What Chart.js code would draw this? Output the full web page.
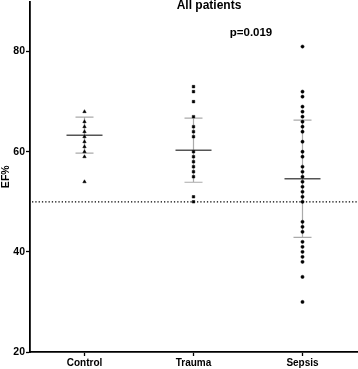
<!DOCTYPE html>
<html>
<head>
<meta charset="utf-8">
<script src="https://cdn.jsdelivr.net/npm/chart.js@4.4.0/dist/chart.umd.min.js"></script>
<style>
  html, body { margin: 0; padding: 0; background: #fff; }
  #wrap { width: 358px; height: 369px; }
</style>
</head>
<body>
<div id="wrap"><canvas id="myChart" width="358" height="369"></canvas></div>
<script>
const groups = ['Control', 'Trauma', 'Sepsis'];
const controlValues = [68, 66, 65, 64, 63, 62, 61, 60, 59, 54];
const traumaValues = [73, 72, 70, 67, 65, 64, 63, 60, 59, 58, 57, 56, 55, 51, 50];
const sepsisValues = [81, 72, 71, 69, 68, 67, 66, 65, 64, 62, 60, 59, 57, 56, 55,
  54, 53, 52, 51, 50, 46, 45, 44, 42, 41, 40, 39, 38, 35, 30];
const groupMeans = [63.3, 60.3, 54.6];
const groupSDs = [3.6, 6.4, 11.7];
const yTicks = [20, 40, 60, 80];
const cutoffValue = 50;
const chartTitle = 'All patients';
const pValueText = 'p=0.019';

const font = 'Liberation Sans, Arial, sans-serif';

const toPoints = (name, values) => values.map((v) => ({ x: name, y: v }));

// mean +/- SD bars and the dotted cut-off line
const errorBars = {
  id: 'errorBars',
  beforeDatasetsDraw(chart) {
    const { ctx, chartArea, scales: { x, y } } = chart;
    ctx.save();
    // dotted reference line
    const yc = y.getPixelForValue(cutoffValue);
    ctx.strokeStyle = '#000';
    ctx.lineWidth = 1.3;
    ctx.setLineDash([1.3, 2]);
    ctx.beginPath();
    ctx.moveTo(chartArea.left + 2, yc);
    ctx.lineTo(chartArea.right, yc);
    ctx.stroke();
    ctx.setLineDash([]);

    groups.forEach((g, i) => {
      const cx = x.getPixelForValue(i);
      const yTop = y.getPixelForValue(groupMeans[i] + groupSDs[i]);
      const yBot = y.getPixelForValue(groupMeans[i] - groupSDs[i]);
      const yMean = y.getPixelForValue(groupMeans[i]);
      ctx.strokeStyle = '#aaaaaa';
      ctx.lineWidth = 1.2;
      ctx.beginPath();
      ctx.moveTo(cx, yTop);
      ctx.lineTo(cx, yBot);
      ctx.moveTo(cx - 9, yTop);
      ctx.lineTo(cx + 9, yTop);
      ctx.moveTo(cx - 9, yBot);
      ctx.lineTo(cx + 9, yBot);
      ctx.stroke();
      ctx.strokeStyle = '#555555';
      ctx.lineWidth = 1.5;
      ctx.beginPath();
      ctx.moveTo(cx - 18, yMean);
      ctx.lineTo(cx + 18, yMean);
      ctx.stroke();
    });
    ctx.restore();
  },
  afterDraw(chart) {
    const { ctx } = chart;
    ctx.save();
    ctx.fillStyle = '#000';
    ctx.textAlign = 'center';
    ctx.textBaseline = 'middle';
    ctx.font = `bold 12px ${font}`;
    ctx.fillText(chartTitle, 209, 6);
    ctx.font = `bold 11.5px ${font}`;
    ctx.fillText(pValueText, 251, 33);
    ctx.restore();
  },
};

const ctx = document.getElementById('myChart').getContext('2d');
const chart = new Chart(ctx, {
  type: 'scatter',
  data: {
    datasets: [
      {
        label: groups[0],
        data: toPoints(groups[0], controlValues),
        pointStyle: 'triangle',
        radius: 2,
        backgroundColor: '#000',
        borderColor: '#000',
        borderWidth: 0.5,
      },
      {
        label: groups[1],
        data: toPoints(groups[1], traumaValues),
        pointStyle: 'rect',
        radius: 1.8,
        backgroundColor: '#000',
        borderColor: '#000',
        borderWidth: 0.5,
      },
      {
        label: groups[2],
        data: toPoints(groups[2], sepsisValues),
        pointStyle: 'circle',
        radius: 1.6,
        backgroundColor: '#000',
        borderColor: '#000',
        borderWidth: 0.5,
      },
    ],
  },
  options: {
    responsive: false,
    animation: false,
    layout: { autoPadding: false, padding: { top: 1.5, right: 1, left: 0, bottom: 0 } },
    plugins: { legend: { display: false }, tooltip: { enabled: false } },
    scales: {
      x: {
        type: 'category',
        labels: groups,
        offset: true,
        grid: {
          offset: false,
          drawOnChartArea: false,
          drawTicks: true,
          tickLength: 4,
          tickWidth: 1.3,
          tickColor: '#000',
        },
        border: { display: true, color: '#000', width: 1.8 },
        ticks: {
          color: '#000',
          padding: 1,
          font: { family: font, size: 10, weight: 'bold' },
        },
        afterFit(scale) {
          scale.height = 17;
          scale.paddingLeft = 0;
          scale.paddingRight = 0;
        },
      },
      y: {
        min: 20,
        max: 90,
        afterBuildTicks(scale) { scale.ticks = yTicks.map((v) => ({ value: v })); },
        grid: {
          drawOnChartArea: false,
          drawTicks: true,
          tickLength: 4,
          tickWidth: 1.3,
          tickColor: '#000',
        },
        border: { display: true, color: '#000', width: 1.8 },
        ticks: {
          color: '#000',
          padding: 1,
          font: { family: font, size: 10.5, weight: 'bold' },
        },
        title: {
          display: true,
          text: 'EF%',
          color: '#000',
          padding: 0,
          font: { family: font, size: 10.5, weight: 'bold' },
        },
        afterFit(scale) {
          scale.width = 30;
          scale.paddingTop = 0;
          scale.paddingBottom = 0;
        },
      },
    },
  },
  plugins: [errorBars],
});
</script>
</body>
</html>
